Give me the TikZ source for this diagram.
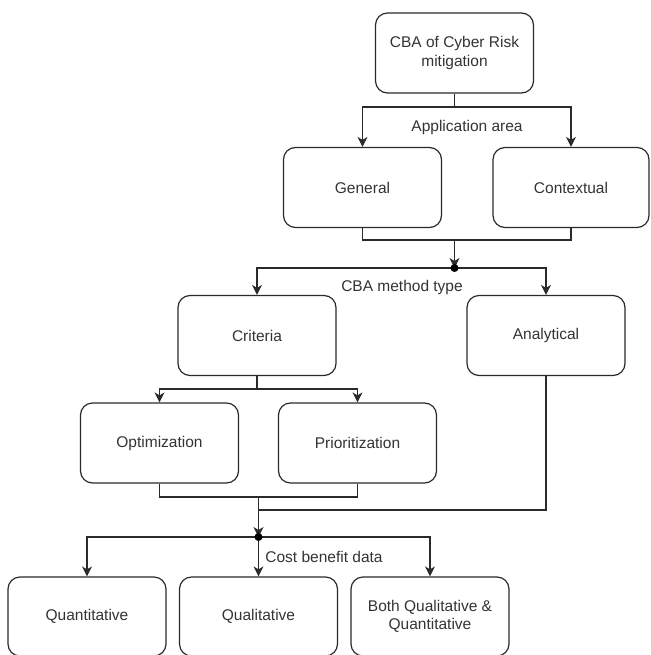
\documentclass[tikz,border=0pt]{standalone}
\usepackage{fontspec}
\setmainfont{Liberation Sans}
\usetikzlibrary{arrows.meta}
\definecolor{linec}{HTML}{2A2A2A}
\definecolor{textc}{HTML}{333333}
\begin{document}
\begin{tikzpicture}[x=1pt,y=-1pt,
  box/.style={draw=linec, line width=1.2pt, rounded corners=12pt, minimum width=158pt, minimum height=80pt, inner sep=2pt, align=center, text=textc, font=\fontsize{15.5}{18.5}\selectfont},
  lbl/.style={text=textc, font=\fontsize{15.5}{18.5}\selectfont, inner sep=1pt},
  conn/.style={draw=linec, line width=1.2pt},
  arr/.style={conn, -{Stealth[length=10pt,width=10pt,inset=3pt]}},
  dotc/.style={fill=black, circle, inner sep=0pt, minimum size=8pt}]
\useasboundingbox (0,0) rectangle (650,655);
% boxes
\node[box] (top) at (454.5,53) {CBA of Cyber Risk\\mitigation};
\node[box] (gen) at (362.5,187.5) {General};
\node[box, minimum width=156pt] (ctx) at (571,187.5) {Contextual};
\node[box] (crit) at (257,335.5) {Criteria};
\node[box] (ana) at (546,335.5) {Analytical};
\node[box] (opt) at (159.5,443) {Optimization};
\node[box] (prio) at (357.5,443) {Prioritization};
\node[box, minimum height=79pt] (quant) at (87,616.5) {Quantitative};
\node[box, minimum height=79pt] (qual) at (258.5,616.5) {Qualitative};
\node[box, minimum height=79pt] (both) at (430,616.5) {Both Qualitative \&\\Quantitative};
% junction coordinates
\coordinate (j1) at (454.5,107);
\coordinate (m1) at (454.5,240);
\coordinate (d1) at (454.5,268);
\coordinate (m2) at (257,389);
\coordinate (m3) at (258.5,497);
\coordinate (m4) at (258.5,510);
\coordinate (d2) at (258.5,537);
% connectors
\draw[arr] (top.south) -- (j1) -| (gen.north);
\draw[arr] (j1) -| (ctx.north);
\draw[conn] (gen.south) |- (m1) -| (ctx.south);
\draw[arr] (m1) -- (d1);
\draw[arr] (d1) -| (crit.north);
\draw[arr] (d1) -| (ana.north);
\draw[arr] (crit.south) |- (m2) -| (opt.north);
\draw[arr] (m2) -| (prio.north);
\draw[conn] (opt.south) |- (m3) -| (prio.south);
\draw[conn] (ana.south) |- (m4);
\draw[arr] (m3) -- (d2);
\draw[arr] (d2) -| (quant.north);
\draw[arr] (d2) -- (qual.north);
\draw[arr] (d2) -| (both.north);
\node[dotc] (dot1) at (d1) {};
\node[dotc] (dot2) at (d2) {};
% labels
\node[lbl] (la) at (467,127) {Application area};
\node[lbl] (lb) at (402,287) {CBA method type};
\node[lbl] (lc) at (324,557) {Cost benefit data};
\end{tikzpicture}
\end{document}
